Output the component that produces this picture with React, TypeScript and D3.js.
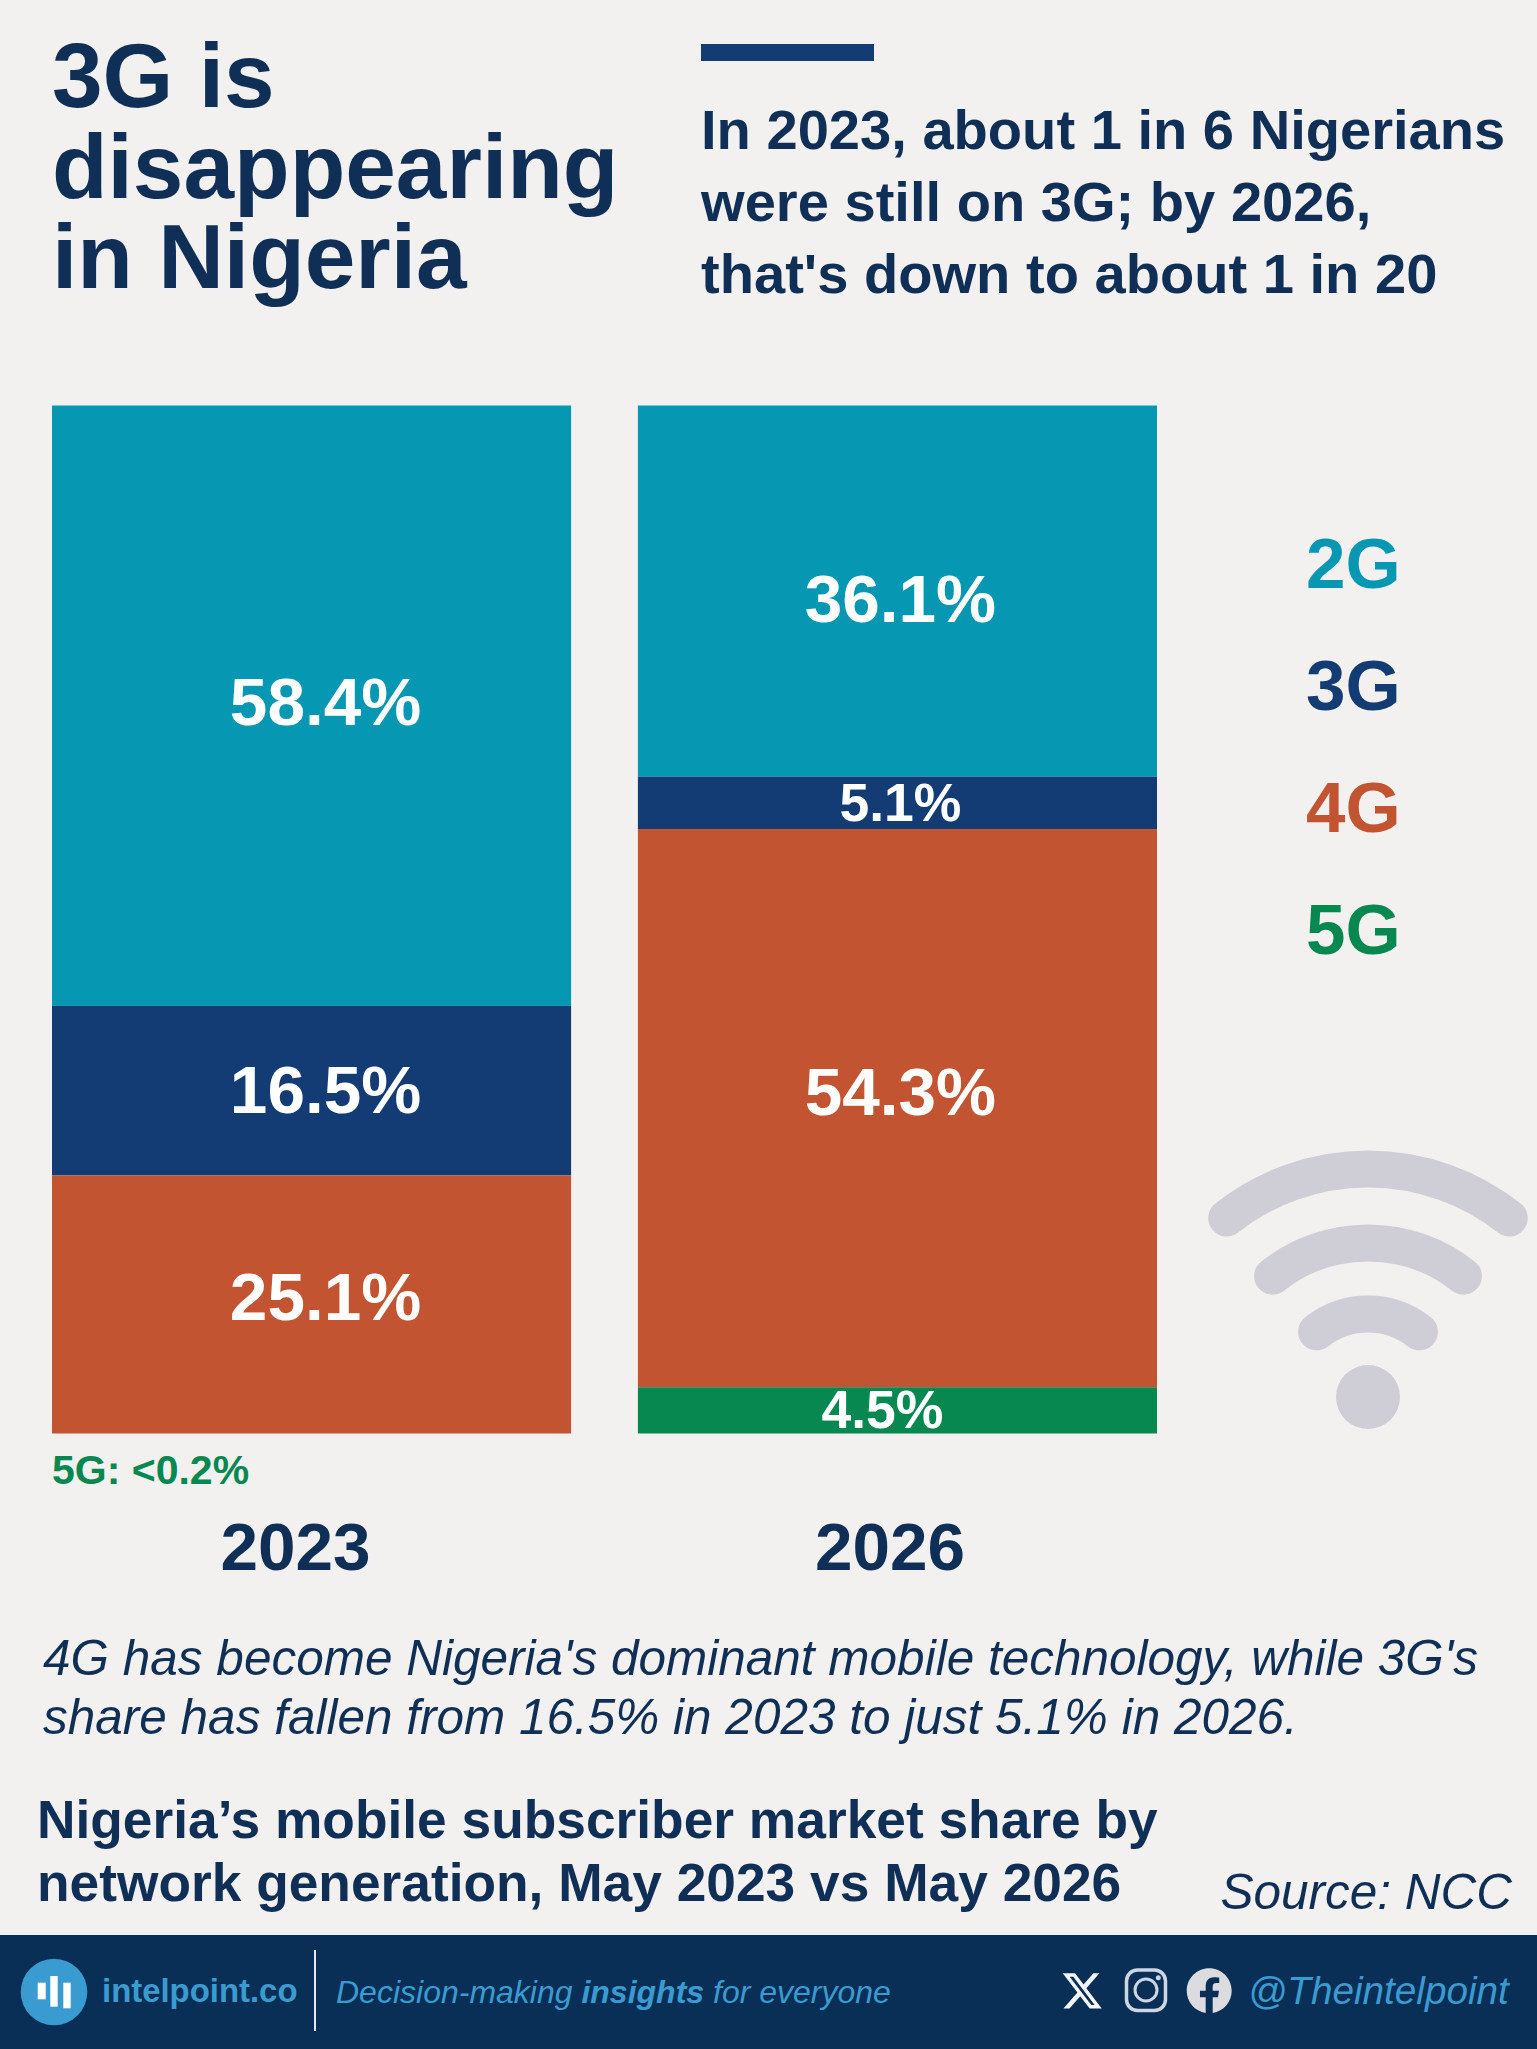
import React from 'react'
import * as d3 from 'd3'

// Market share by network generation, May 2023 vs May 2026
const years = ['2023', '2026']
const generations = ['2G', '3G', '4G', '5G']
const share2G = [58.4, 36.1]
const share3G = [16.5, 5.1]
const share4G = [25.1, 54.3]
const share5G = [0, 4.5]
const shareLabels = [
  ['58.4%', '16.5%', '25.1%', ''],
  ['36.1%', '5.1%', '54.3%', '4.5%'],
]
const titleLines = ['3G is', 'disappearing', 'in Nigeria']
const subtitleLines = ['In 2023, about 1 in 6 Nigerians', 'were still on 3G; by 2026,', "that's down to about 1 in 20"]
const noteLines = [
  "4G has become Nigeria's dominant mobile technology, while 3G's",
  'share has fallen from 16.5% in 2023 to just 5.1% in 2026.',
]
const footLines = ['Nigeria’s mobile subscriber market share by', 'network generation, May 2023 vs May 2026']

const colors: Record<string, string> = { '2G': '#0697b3', '3G': '#143c74', '4G': '#c25431', '5G': '#078850' }
const navy = '#0f2f57'
const blue = '#3a9bd1'
const sans = '"Liberation Sans", Arial, sans-serif'

const rows = years.map((year, i) => ({
  year,
  '2G': share2G[i],
  '3G': share3G[i],
  '4G': share4G[i],
  '5G': share5G[i],
}))

const x = d3.scaleBand().domain(years).range([52, 1157]).paddingInner(0.114)
const y = d3.scaleLinear().domain([0, 100]).range([405.5, 1433.5])
// stacked top-down, 2G sits on top
const series = d3.stack<any>().keys(generations)(rows)

// small hand nudges: the original labels are not quite centred in their segments
const labelDx = [[14, 14, 14, 0], [3, 3, 3, -15]]
const labelDy = [[-4.5, -1.5, -8.5, 0], [6.5, -1.5, -17.5, -2]]

// wifi icon: concentric round-capped arcs around a dot
const wifiRadii = [228, 154, 83]
const wifiArc = (r: number) => {
  const p = d3.path()
  const a = (38.3 * Math.PI) / 180
  p.arc(1368, 1397, r, -Math.PI / 2 - a, -Math.PI / 2 + a)
  return p.toString()
}

export default function App() {
  return (
    <svg width={1537} height={2049} style={{ position: 'absolute', left: 0, top: 0 }} fontFamily={sans}>
      <rect width={1537} height={2049} fill="#f3f1ef" />

      {titleLines.map((t, i) => (
        <text key={t} x={52} y={107 + i * 90.5} fontSize={91} fontWeight={700} fill={navy}>{t}</text>
      ))}
      <rect x={701} y={44} width={173} height={17} fill="#143c74" />
      {subtitleLines.map((t, i) => (
        <text key={t} x={701} y={149 + i * 72} fontSize={56.1} fontWeight={700} fill={navy}>{t}</text>
      ))}

      {series.map((s, si) =>
        s.map((d, yi) => {
          const h = y(d[1]) - y(d[0])
          if (h <= 0) return null
          const year = years[yi]
          const small = h < 60
          return (
            <g key={s.key + year}>
              <rect x={x(year)} y={y(d[0])} width={x.bandwidth()} height={h} fill={colors[s.key]} />
              <text
                x={x(year)! + x.bandwidth() / 2 + labelDx[yi][si]}
                y={(y(d[0]) + y(d[1])) / 2 + labelDy[yi][si]}
                dy="0.36em"
                textAnchor="middle"
                fontSize={small ? 53.5 : 67.5}
                fontWeight={700}
                fill="#fff"
              >
                {shareLabels[yi][si]}
              </text>
            </g>
          )
        })
      )}

      <text x={52} y={1484} fontSize={41} fontWeight={700} fill={colors['5G']}>5G: &lt;0.2%</text>
      {years.map((year, i) => (
        <text key={year} x={[295.5, 890][i]} y={1570} textAnchor="middle" fontSize={67.5} fontWeight={700} fill={navy}>{year}</text>
      ))}

      {generations.map((g, i) => (
        <text key={g} x={1306} y={588.3 + i * 122} fontSize={71} fontWeight={700} fill={colors[g]}>{g}</text>
      ))}

      <g fill="none" stroke="#cfced6" strokeWidth={37} strokeLinecap="round">
        {wifiRadii.map(r => <path key={r} d={wifiArc(r)} />)}
      </g>
      <circle cx={1368} cy={1397} r={32} fill="#cfced6" />

      {noteLines.map((t, i) => (
        <text key={t} x={43} y={1675 + i * 59} fontSize={49.5} fontStyle="italic" fill={navy}>{t}</text>
      ))}
      {footLines.map((t, i) => (
        <text key={t} x={37} y={1838 + i * 62.5} fontSize={53.3} fontWeight={700} fill={navy}>{t}</text>
      ))}
      <text x={1512} y={1909} textAnchor="end" fontSize={49.5} fontStyle="italic" fill={navy}>Source: NCC</text>

      {/* footer band */}
      <rect y={1935} width={1537} height={114} fill="#0a2f57" />
      <circle cx={54} cy={1992} r={33.3} fill={blue} />
      <g fill="#fff">
        <rect x={37.7} y={1982.7} width={8} height={16.6} />
        <rect x={50.3} y={1976} width={7.4} height={30.7} />
        <rect x={63.3} y={1982.7} width={7.4} height={25.6} />
      </g>
      <text x={102} y={2002} fontSize={32.9} fontWeight={700} fill={blue}>intelpoint.co</text>
      <line x1={315} x2={315} y1={1950} y2={2031} stroke="#e8e8e8" strokeWidth={2} />
      <text x={336} y={2003} fontSize={32} fontStyle="italic" fill={blue}>
        Decision-making <tspan fontWeight={700}>insights</tspan> for everyone
      </text>
      <path
        transform="translate(1060.4,1969.2) scale(1.81)"
        fill="#f4f6f8"
        d="M18.244 2.25h3.308l-7.227 8.26 8.502 11.24H16.17l-5.214-6.817L4.99 21.75H1.68l7.73-8.835L1.254 2.25H8.08l4.713 6.231zm-1.161 17.52h1.833L7.084 4.126H5.117z"
      />
      <rect x={1126.5} y={1970} width={39} height={40.5} rx={11} fill="none" stroke="#ccd6e4" strokeWidth={3.5} />
      <circle cx={1146} cy={1990} r={11} fill="none" stroke="#ccd6e4" strokeWidth={3} />
      <circle cx={1158.3} cy={1977.7} r={2.5} fill="#ccd6e4" />
      <path
        transform="translate(1186.7,1968.2) scale(1.875)"
        fill="#dcdce0"
        d="M24 12.073c0-6.627-5.373-12-12-12s-12 5.373-12 12c0 5.99 4.388 10.954 10.125 11.854v-8.385H7.078v-3.47h3.047V9.43c0-3.007 1.792-4.669 4.533-4.669 1.312 0 2.686.235 2.686.235v2.953H15.83c-1.491 0-1.956.925-1.956 1.874v2.25h3.328l-.532 3.47h-2.796v8.385C19.612 23.027 24 18.062 24 12.073z"
      />
      <text x={1248} y={2004} fontSize={38.7} fontStyle="italic" fill={blue}>@Theintelpoint</text>
    </svg>
  )
}
